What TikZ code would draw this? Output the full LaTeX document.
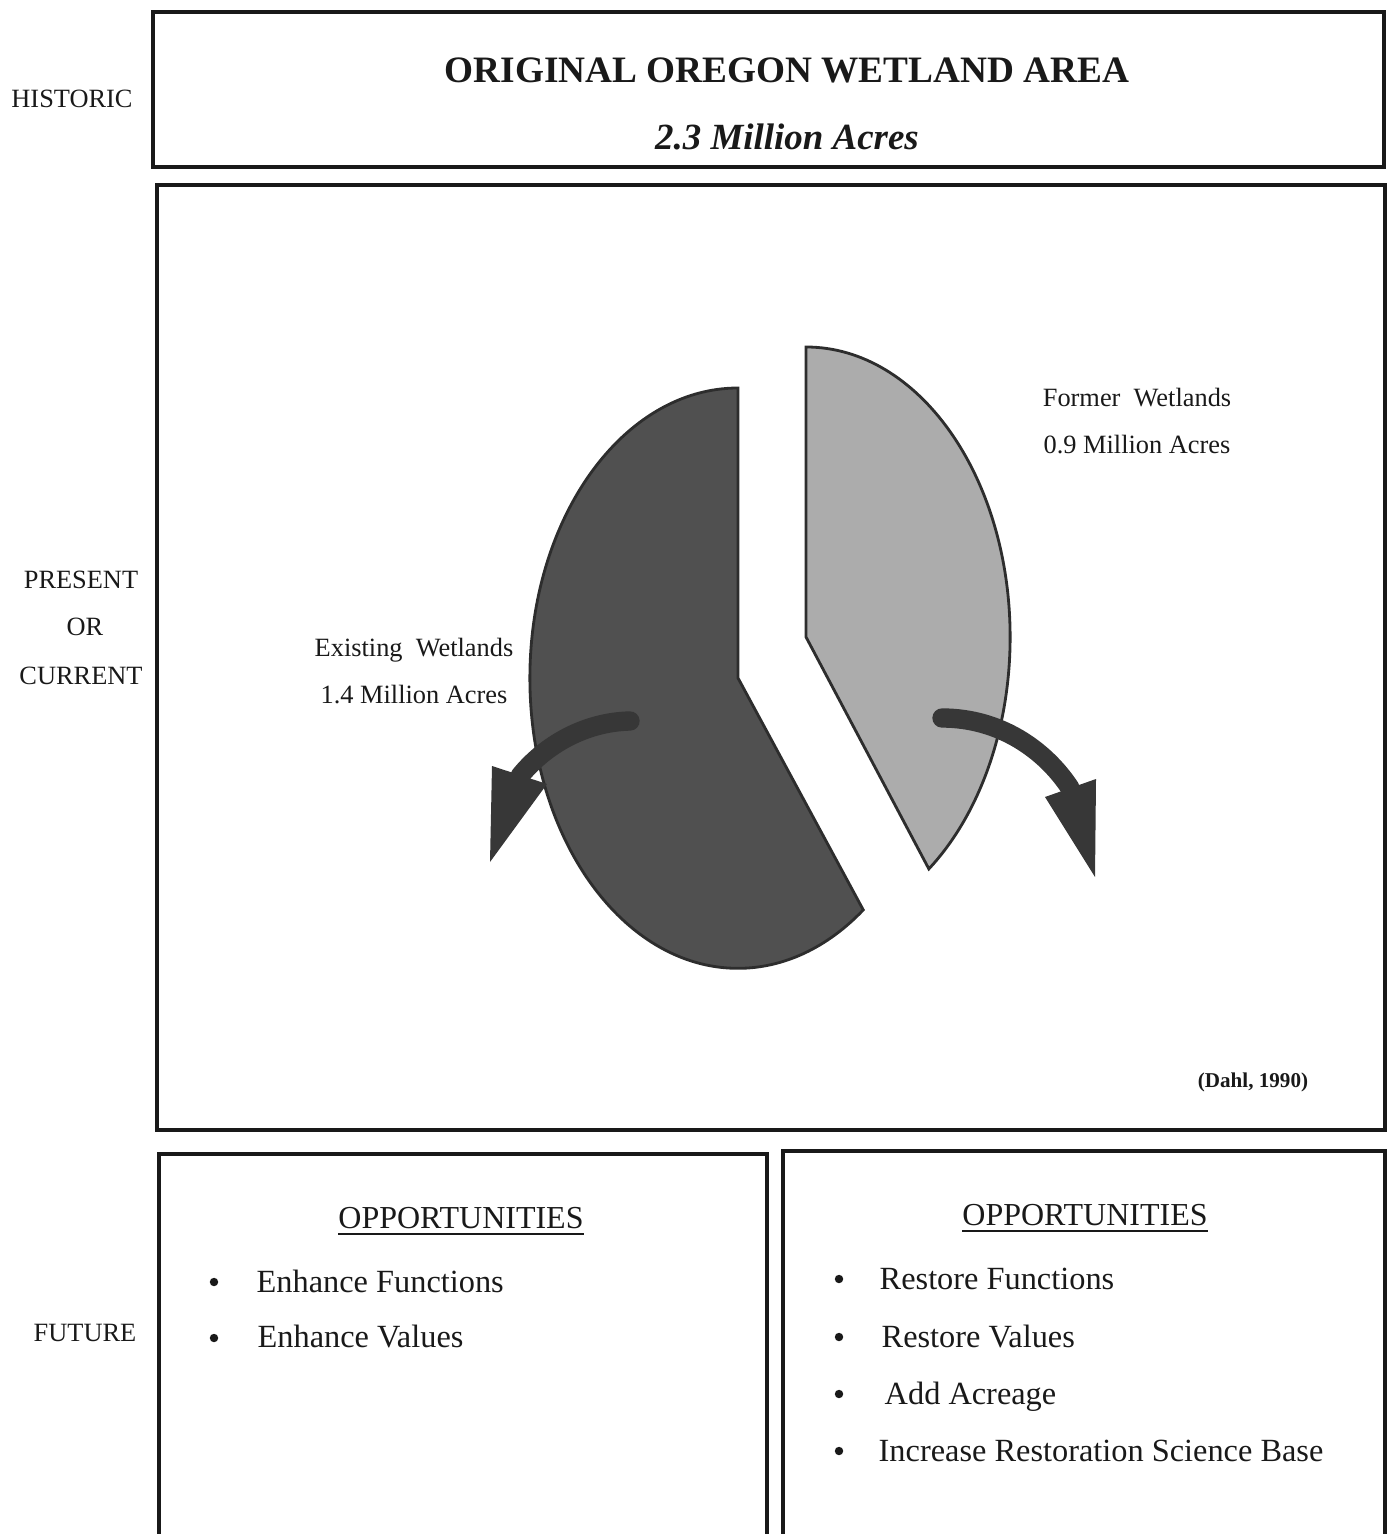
\documentclass[tikz,border=0pt]{standalone}
\usepackage{fontspec}
\setmainfont{Liberation Serif}
\usepackage{tikz}
\usetikzlibrary{arrows,shapes,positioning}
\usepackage{xcolor}
\definecolor{wetdark}{RGB}{80,80,80}
\definecolor{wetlight}{RGB}{172,172,172}
\definecolor{wetedge}{RGB}{45,45,45}
\definecolor{wetarrow}{RGB}{55,55,55}
\definecolor{wetink}{RGB}{25,25,25}
\tikzstyle{frame} = [line width=1.3pt, color=black!90]
\tikzstyle{era} = [font=\fontsize{7.5}{9}\selectfont, color=wetink]
\tikzstyle{pielabel} = [font=\fontsize{7.5}{9}\selectfont, align=center, color=wetink]
\tikzstyle{heading} = [font=\fontsize{9.1}{11}\selectfont, color=wetink]
\tikzstyle{item} = [anchor=base west, inner sep=0pt, font=\fontsize{9.2}{11}\selectfont, color=wetink]
\tikzstyle{dot} = [circle, fill=wetink, inner sep=0pt, minimum size=2.4pt]
\tikzstyle{slice} = [line width=0.8pt, draw=wetedge]
\tikzstyle{flow} = [line width=5.5pt, line cap=round, color=wetarrow]

\begin{document}
\begin{tikzpicture}[x=0.01cm, y=-0.01cm]
\useasboundingbox (0,0) rectangle (1387,1534);

% Frames
\draw[frame] (153,12) rectangle (1384,167);
\draw[frame] (157,185) rectangle (1385,1130);
\draw[frame] (159,1534) -- (159,1154) -- (767,1154) -- (767,1534);
\draw[frame] (783,1534) -- (783,1151) -- (1385,1151) -- (1385,1534);

% Era labels
\node[era] (historic) at (72,99) {HISTORIC};
\node[era] (present) at (81,580) {PRESENT};
\node[era] (or) at (85,627) {OR};
\node[era] (current) at (81,676) {CURRENT};
\node[era] (future) at (85,1333) {FUTURE};

% Title
\node[font=\fontsize{10.6}{12}\selectfont\bfseries, color=wetink] (title) at (787,70) {ORIGINAL OREGON WETLAND AREA};
\node[font=\fontsize{10.5}{12}\selectfont\bfseries\itshape, color=wetink] (total) at (787,137) {2.3 Million Acres};

% Pie chart representation
\draw[slice, fill=wetdark] (738,678) -- (738,388) arc[start angle=90, end angle=307, x radius=2.08cm, y radius=2.9cm] -- cycle;
\draw[slice, fill=wetlight] (806,637) -- (806,347) arc[start angle=90, end angle=-53, x radius=2.04cm, y radius=2.9cm] -- cycle;

% Arrows
\coordinate (exstart) at (630,721);
\coordinate (exend) at (520,776);
\draw[flow] (exstart) .. controls (585,722) and (545,745) .. (exend);
\fill[wetarrow] (492,766) -- (547,784) -- (490,862) -- cycle;
\coordinate (fmstart) at (942,718);
\coordinate (fmend) at (1070,788);
\draw[flow] (fmstart) .. controls (1000,718) and (1045,750) .. (fmend);
\fill[wetarrow] (1045,797) -- (1096,779) -- (1095,877) -- cycle;

% Labels
\node[pielabel] (existing) at (414,671) {Existing\ \ Wetlands\\[4.6pt]1.4 Million Acres};
\node[pielabel] (former) at (1137,421) {Former\ \ Wetlands\\[4.6pt]0.9 Million Acres};
\node[font=\fontsize{6}{7}\selectfont\bfseries, color=wetink] (source) at (1253,1082) {(Dahl, 1990)};

% Opportunities
\node[heading] (oppleft) at (461,1222) {\underline{OPPORTUNITIES}};
\node[dot] (dl1) at (214,1282) {};
\node[item] (enfun) at (256,1292) {Enhance Functions};
\node[dot] (dl2) at (214,1338) {};
\node[item] (enval) at (257,1347) {Enhance Values};

\node[heading] (oppright) at (1085,1219) {\underline{OPPORTUNITIES}};
\node[dot] (dr1) at (839,1279) {};
\node[item] (refun) at (879,1289) {Restore Functions};
\node[dot] (dr2) at (839,1337) {};
\node[item] (reval) at (881,1347) {Restore Values};
\node[dot] (dr3) at (839,1394) {};
\node[item] (addacre) at (884,1404) {Add Acreage};
\node[dot] (dr4) at (839,1451) {};
\node[item] (science) at (878,1461) {Increase Restoration Science Base};
\end{tikzpicture}
\end{document}
